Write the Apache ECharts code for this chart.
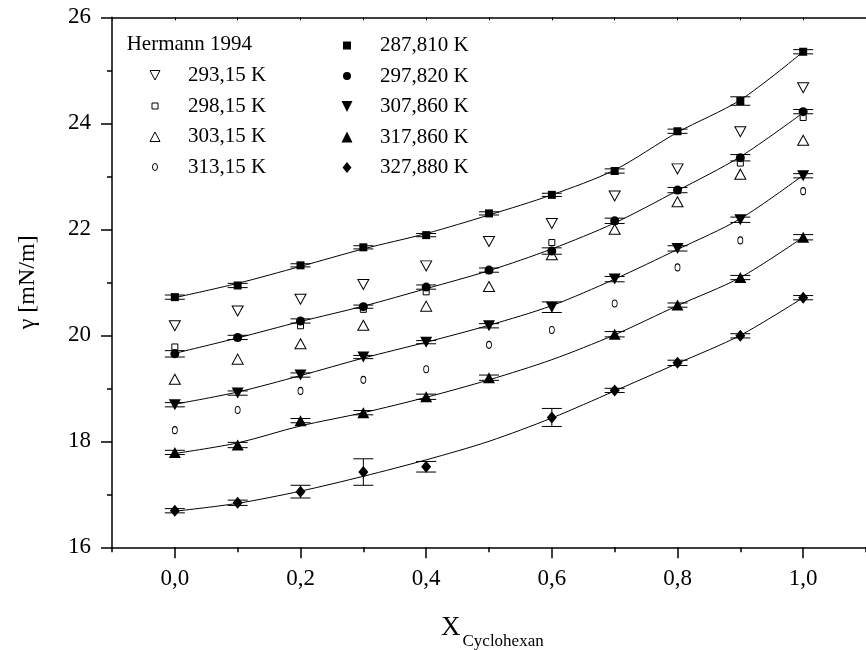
<!DOCTYPE html>
<html>
<head>
<meta charset="utf-8">
<script src="https://cdn.jsdelivr.net/npm/echarts@6/dist/echarts.min.js"></script>
<style>
  html, body { margin: 0; padding: 0; background: #fff; }
  #chart { width: 866px; height: 650px; }
</style>
</head>
<body>
<div id="chart"></div>
<script>
// Mole fraction of cyclohexane
const xs = [0.0, 0.1, 0.2, 0.3, 0.4, 0.5, 0.6, 0.7, 0.8, 0.9, 1.0];
const xMajorTicks = [0.0, 0.2, 0.4, 0.6, 0.8, 1.0];
const xMinorTicks = [-0.1, 0.1, 0.3, 0.5, 0.7, 0.9, 1.1];
const xTopTicks = [-0.1, 0.0, 0.1, 0.2, 0.3, 0.4, 0.5, 0.6, 0.7, 0.8, 0.9, 1.0, 1.1];

// Hermann 1994 (open symbols), surface tension in mN/m
const h29315 = [20.18, 20.46, 20.68, 20.96, 21.31, 21.77, 22.11, 22.63, 23.14, 23.84, 24.67];
const h29815 = [19.78, 19.95, 20.18, 20.49, 20.82, 21.22, 21.75, 22.15, 22.73, 23.25, 24.11];
const h30315 = [19.17, 19.55, 19.84, 20.19, 20.55, 20.92, 21.52, 22.00, 22.52, 23.04, 23.68];
const h31315 = [18.21, 18.59, 18.95, 19.16, 19.36, 19.82, 20.10, 20.60, 21.28, 21.79, 22.72];

// Own measurements (filled symbols)
const m28781 = [20.72, 20.94, 21.32, 21.66, 21.89, 22.30, 22.65, 23.10, 23.85, 24.42, 25.35];
const m29782 = [19.65, 19.96, 20.27, 20.54, 20.91, 21.23, 21.59, 22.16, 22.74, 23.35, 24.22];
const m30786 = [18.69, 18.91, 19.25, 19.59, 19.87, 20.18, 20.53, 21.06, 21.64, 22.18, 23.01];
const m31786 = [17.79, 17.93, 18.39, 18.54, 18.84, 19.20, null, 20.02, 20.57, 21.09, 21.85];
const m32788 = [16.69, 16.84, 17.05, 17.42, 17.52, null, 18.45, 18.96, 19.48, 19.99, 20.71];

// Standard deviations of the measurements
const e28781 = [0.04, 0.04, 0.03, 0.03, 0.03, 0.03, 0.03, 0.04, 0.04, 0.08, 0.04];
const e29782 = [0.06, 0.04, 0.04, 0.03, 0.04, 0.04, 0.06, 0.05, 0.05, 0.06, 0.04];
const e30786 = [0.04, 0.04, 0.04, 0.03, 0.03, 0.04, 0.10, 0.05, 0.05, 0.05, 0.04];
const e31786 = [0.04, 0.05, 0.04, 0.04, 0.05, 0.05, null, 0.05, 0.04, 0.04, 0.05];
const e32788 = [0.04, 0.05, 0.12, 0.25, 0.10, null, 0.17, 0.04, 0.05, 0.04, 0.04];

// Fitted curves through the measurements
const f28781 = [20.71, 20.98, 21.30, 21.63, 21.92, 22.27, 22.65, 23.12, 23.83, 24.44, 25.35];
const f29782 = [19.66, 19.95, 20.26, 20.55, 20.88, 21.22, 21.63, 22.12, 22.73, 23.37, 24.20];
const f30786 = [18.70, 18.93, 19.24, 19.57, 19.87, 20.19, 20.56, 21.06, 21.62, 22.20, 23.02];
const f31786 = [17.77, 17.97, 18.29, 18.54, 18.83, 19.16, 19.54, 20.01, 20.56, 21.09, 21.85];
const f32788 = [16.68, 16.83, 17.06, 17.34, 17.65, 18.00, 18.44, 18.95, 19.47, 20.00, 20.71];

const yTicks = { min: 16, max: 26, step: 2 };

const SERIF = 'Liberation Serif';
const BLACK = '#000';

const pairs = (vals) => xs.map((x, i) => [x, vals[i]]).filter(p => p[1] != null);

// Marker outlines (unit boxes); used in the plot
const SYM = {
  triDown: 'path://M0,0L11,0L5.5,10Z',
  triUp: 'path://M5.5,0L11,10L0,10Z',
  diamond: 'path://M5,0L10,6L5,12L0,6Z'
};
// Legend icons drawn inside an 11x11 frame so their relative sizes are kept
const ICON = {
  triDownOpen: 'path://M0,0M11,11M0.5,0.5L10.5,0.5L5.5,10Z',
  triUpOpen: 'path://M0,0M11,11M5.5,1L10.5,10.5L0.5,10.5Z',
  squareOpen: 'path://M0,0M11,11M2.5,2.5L8.5,2.5L8.5,8.5L2.5,8.5Z',
  circleOpen: 'path://M0,0M11,11M5.5,2A2.5,3.5,0,1,1,5.49,2Z',
  squareFull: 'path://M0,0M11,11M1.5,1.5L9.5,1.5L9.5,9.5L1.5,9.5Z',
  circleFull: 'path://M0,0M11,11M5.5,1.5A4,4,0,1,1,5.49,1.5Z',
  triDownFull: 'path://M0,0M11,11M0,0L11,0L5.5,11Z',
  triUpFull: 'path://M0,0M11,11M5.5,0L11,11L0,11Z',
  diamondFull: 'path://M0,0M11,11M5.5,0L10,5.5L5.5,11L1,5.5Z'
};

function fitLine(vals) {
  return {
    type: 'line', data: pairs(vals), smooth: 0.3, showSymbol: false, silent: true, z: 2,
    lineStyle: { color: BLACK, width: 1 }
  };
}

function errorBars(vals, errs) {
  const data = xs.map((x, i) => vals[i] == null ? null : [x, vals[i] - errs[i], vals[i] + errs[i]])
                 .filter(Boolean);
  return {
    type: 'custom', silent: true, z: 4, data,
    encode: { x: 0, y: [1, 2] },
    renderItem(params, api) {
      const x = api.value(0);
      const lo = api.coord([x, api.value(1)]);
      const hi = api.coord([x, api.value(2)]);
      const hw = 10;
      const st = { stroke: BLACK, lineWidth: 1 };
      return {
        type: 'group',
        children: [
          { type: 'line', shape: { x1: lo[0], y1: lo[1], x2: hi[0], y2: hi[1] }, style: st },
          { type: 'line', shape: { x1: lo[0] - hw, y1: lo[1], x2: lo[0] + hw, y2: lo[1] }, style: st },
          { type: 'line', shape: { x1: hi[0] - hw, y1: hi[1], x2: hi[0] + hw, y2: hi[1] }, style: st }
        ]
      };
    }
  };
}

function marks(name, vals, symbol, size, open) {
  return {
    type: 'scatter', name, data: pairs(vals), symbol, symbolSize: size, z: 5,
    itemStyle: open ? { color: '#fff', borderColor: BLACK, borderWidth: 1, opacity: 1 }
                    : { color: BLACK, borderWidth: 0, opacity: 1 }
  };
}

const legendText = { fontFamily: SERIF, fontSize: 21, color: BLACK, lineHeight: 20 };
const legendBase = {
  orient: 'vertical', itemWidth: 56, itemHeight: 11, itemGap: 9.5, padding: 0,
  selectedMode: false, textStyle: legendText, itemStyle: { borderWidth: 1 }
};

const option = {
  backgroundColor: '#fff',
  animation: false,
  grid: { left: 112, top: 17.3, right: -7.7, bottom: 102.7, containLabel: false },
  xAxis: [
    {
      type: 'value', min: -0.1, max: 1.1, position: 'bottom',
      axisLine: { onZero: false, lineStyle: { color: BLACK, width: 1.5 } },
      axisTick: { customValues: xMajorTicks, length: 11, inside: false, lineStyle: { color: BLACK, width: 1.5 } },
      axisLabel: {
        customValues: xMajorTicks, margin: 20, fontFamily: SERIF, fontSize: 23, color: BLACK,
        formatter: v => v.toFixed(1).replace('.', ',')
      },
      splitLine: { show: false }
    },
    {
      type: 'value', min: -0.1, max: 1.1, position: 'bottom',
      axisLine: { show: false, onZero: false },
      axisTick: { customValues: xMinorTicks, length: 5, inside: false, lineStyle: { color: BLACK, width: 1.5 } },
      axisLabel: { show: false },
      splitLine: { show: false }
    },
    {
      type: 'value', min: -0.1, max: 1.1, position: 'top',
      axisLine: { onZero: false, lineStyle: { color: BLACK, width: 1.5 } },
      axisTick: { customValues: xTopTicks, length: 3, inside: true, lineStyle: { color: BLACK, width: 1 } },
      axisLabel: { show: false },
      splitLine: { show: false }
    }
  ],
  yAxis: {
    type: 'value', min: yTicks.min, max: yTicks.max, interval: yTicks.step,
    axisLine: { show: true, onZero: false, lineStyle: { color: BLACK, width: 1.5 } },
    axisTick: { length: 11, inside: false, lineStyle: { color: BLACK, width: 1.5 } },
    minorTick: { show: true, splitNumber: 2, length: 5, lineStyle: { color: BLACK, width: 1.5 } },
    axisLabel: { margin: 21, fontFamily: SERIF, fontSize: 23, color: BLACK },
    splitLine: { show: false },
    name: 'γ [mN/m]', nameLocation: 'middle', nameGap: 72,
    nameTextStyle: { fontFamily: SERIF, fontSize: 24, color: BLACK }
  },
  legend: [
    Object.assign({}, legendBase, {
      left: 149, top: 65,
      data: [
        { name: '293,15 K', icon: ICON.triDownOpen },
        { name: '298,15 K', icon: ICON.squareOpen },
        { name: '303,15 K', icon: ICON.triUpOpen },
        { name: '313,15 K', icon: ICON.circleOpen }
      ]
    }),
    Object.assign({}, legendBase, {
      left: 341.5, top: 35,
      data: [
        { name: '287,810 K', icon: ICON.squareFull },
        { name: '297,820 K', icon: ICON.circleFull },
        { name: '307,860 K', icon: ICON.triDownFull },
        { name: '317,860 K', icon: ICON.triUpFull },
        { name: '327,880 K', icon: ICON.diamondFull }
      ]
    })
  ],
  graphic: [
    {
      type: 'text', left: 126.7, top: 34, silent: true,
      style: { text: 'Hermann 1994', font: '21px "Liberation Serif"', fill: BLACK }
    },
    {
      type: 'text', x: 441, y: 641, silent: true,
      style: { text: 'X', font: '27px "Liberation Serif"', fill: BLACK, verticalAlign: 'bottom' }
    },
    {
      type: 'text', x: 462.5, y: 650, silent: true,
      style: { text: 'Cyclohexan', font: '17px "Liberation Serif"', fill: BLACK, verticalAlign: 'bottom' }
    }
  ],
  series: [
    fitLine(f28781), fitLine(f29782), fitLine(f30786), fitLine(f31786), fitLine(f32788),
    errorBars(m28781, e28781), errorBars(m29782, e29782), errorBars(m30786, e30786),
    errorBars(m31786, e31786), errorBars(m32788, e32788),
    marks('293,15 K', h29315, SYM.triDown, [11, 10], true),
    marks('298,15 K', h29815, 'rect', 6, true),
    marks('303,15 K', h30315, SYM.triUp, [11, 10], true),
    marks('313,15 K', h31315, 'circle', [5, 7], true),
    marks('287,810 K', m28781, 'rect', 8, false),
    marks('297,820 K', m29782, 'circle', 9, false),
    marks('307,860 K', m30786, SYM.triDown, [12, 11], false),
    marks('317,860 K', m31786, SYM.triUp, [12, 11], false),
    marks('327,880 K', m32788, SYM.diamond, [10, 12], false)
  ]
};

const chart = echarts.init(document.getElementById('chart'), null, { renderer: 'canvas' });
chart.setOption(option);
</script>
</body>
</html>
